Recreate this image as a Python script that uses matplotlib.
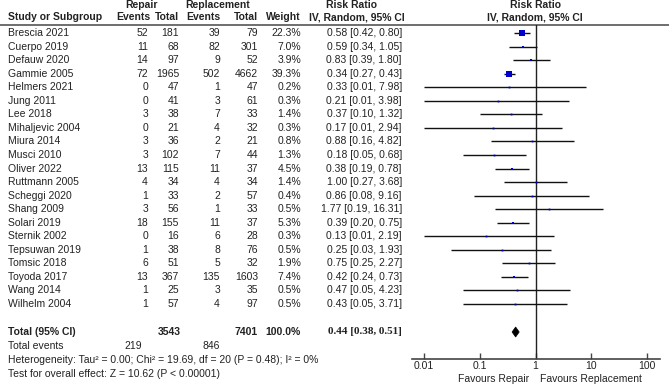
import numpy as np
import matplotlib
matplotlib.use("Agg")
import matplotlib.pyplot as plt

plt.rcParams['font.family'] = ['Liberation Sans', 'DejaVu Sans']

studies = ["Brescia 2021", "Cuerpo 2019", "Defauw 2020", "Gammie 2005", "Helmers 2021",
           "Jung 2011", "Lee 2018", "Mihaljevic 2004", "Miura 2014", "Musci 2010",
           "Oliver 2022", "Ruttmann 2005", "Scheggi 2020", "Shang 2009", "Solari 2019",
           "Sternik 2002", "Tepsuwan 2019", "Tomsic 2018", "Toyoda 2017", "Wang 2014",
           "Wilhelm 2004"]
rep_ev = [52, 11, 14, 72, 0, 0, 3, 0, 3, 3, 13, 4, 1, 3, 18, 0, 1, 6, 13, 1, 1]
rep_tot = [181, 68, 97, 1965, 47, 41, 38, 21, 36, 102, 115, 34, 33, 56, 155, 16, 38, 51, 367, 25, 57]
repl_ev = [39, 82, 9, 502, 1, 3, 7, 4, 2, 7, 11, 4, 2, 1, 11, 6, 8, 5, 135, 3, 4]
repl_tot = [79, 301, 52, 4662, 47, 61, 33, 32, 21, 44, 37, 34, 57, 33, 37, 28, 76, 32, 1603, 35, 97]
weight = [22.3, 7.0, 3.9, 39.3, 0.2, 0.3, 1.4, 0.3, 0.8, 1.3, 4.5, 1.4, 0.4, 0.5, 5.3, 0.3, 0.5, 1.9, 7.4, 0.5, 0.5]
rr = [0.58, 0.59, 0.83, 0.34, 0.33, 0.21, 0.37, 0.17, 0.88, 0.18, 0.38, 1.00, 0.86, 1.77, 0.39, 0.13, 0.25, 0.75, 0.42, 0.47, 0.43]
lo = [0.42, 0.34, 0.39, 0.27, 0.01, 0.01, 0.10, 0.01, 0.16, 0.05, 0.19, 0.27, 0.08, 0.19, 0.20, 0.01, 0.03, 0.25, 0.24, 0.05, 0.05]
hi = [0.80, 1.05, 1.80, 0.43, 7.98, 3.98, 1.32, 2.94, 4.82, 0.68, 0.78, 3.68, 9.16, 16.31, 0.75, 2.19, 1.93, 2.27, 0.73, 4.23, 3.71]

total_rep, total_repl = 3543, 7401
events_rep, events_repl = 219, 846
pooled = (0.44, 0.38, 0.51)
xticks = [0.01, 0.1, 1, 10, 100]
xtick_labels = ["0.01", "0.1", "1", "10", "100"]

W, H = 669, 384
fig = plt.figure(figsize=(W / 100, H / 100), dpi=100)

# table axes in pixel coords
ax = fig.add_axes([0, 0, 1, 1])
ax.set_xlim(0, W)
ax.set_ylim(H, 0)
ax.axis('off')

fs = 7.5
tc = '#222222'
row_y = 33 + np.arange(len(studies)) * 13.55

# headers
hb = dict(fontsize=fs, fontweight='bold', color=tc, va='center')
ax.text(142, 5, "Repair", ha='center', **hb)
ax.text(218, 5, "Replacement", ha='center', **hb)
ax.text(352, 5, "Risk Ratio", ha='center', **hb)
ax.text(535, 5, "Risk Ratio", ha='center', **hb)
ax.text(8, 17, "Study or Subgroup", ha='left', **hb)
ax.text(150, 17, "Events", ha='right', **hb)
ax.text(179, 17, "Total", ha='right', **hb)
ax.text(220, 17, "Events", ha='right', **hb)
ax.text(258, 17, "Total", ha='right', **hb)
ax.text(301, 17, "Weight", ha='right', **hb)
ax.text(357, 17, "IV, Random, 95% CI", ha='center', **hb)
ax.text(535, 17, "IV, Random, 95% CI", ha='center', **hb)
ax.axhline(25, color='#555555', lw=1.2)

tn = dict(fontsize=fs, color=tc, va='center')
for i, y in enumerate(row_y):
    ax.text(8, y, studies[i], ha='left', **tn)
    ax.text(148, y, str(rep_ev[i]), ha='right', **tn)
    ax.text(179, y, str(rep_tot[i]), ha='right', **tn)
    ax.text(220, y, str(repl_ev[i]), ha='right', **tn)
    ax.text(258, y, str(repl_tot[i]), ha='right', **tn)
    ax.text(301, y, f"{weight[i]:.1f}%", ha='right', **tn)
    ax.text(402, y, f"{rr[i]:.2f} [{lo[i]:.2f}, {hi[i]:.2f}]", ha='right', **tn)

# totals
ax.text(8, 332, "Total (95% CI)", ha='left', **hb)
ax.text(181, 332, str(total_rep), ha='right', **hb)
ax.text(258, 332, str(total_repl), ha='right', **hb)
ax.text(301, 332, "100.0%", ha='right', **hb)
ax.text(402, 332, f"{pooled[0]:.2f} [{pooled[1]:.2f}, {pooled[2]:.2f}]", ha='right',
        fontsize=fs + 0.5, fontweight='bold', family='Liberation Serif', color=tc, va='center')
ax.text(8, 346, "Total events", ha='left', **tn)
ax.text(142, 346, str(events_rep), ha='right', **tn)
ax.text(220, 346, str(events_repl), ha='right', **tn)
ax.text(8, 360, "Heterogeneity: Tau² = 0.00; Chi² = 19.69, df = 20 (P = 0.48); I² = 0%", ha='left', **tn)
ax.text(8, 374, "Test for overall effect: Z = 10.62 (P < 0.00001)", ha='left', **tn)

# forest axes
x0, x1 = 412, 660
y_top, y_bot = 25, 358.5
dec = 55.75
axf = fig.add_axes([x0 / W, (H - y_bot) / H, (x1 - x0) / W, (y_bot - y_top) / H])
axf.set_xscale('log')
axf.set_xlim(10 ** (-2 - (424 - x0) / dec), 10 ** (2 + (x1 - 647) / dec))
axf.set_ylim(y_bot, y_top)
axf.patch.set_alpha(0)
for s in ['top', 'left', 'right']:
    axf.spines[s].set_visible(False)
axf.spines['bottom'].set_color('#444444')
axf.spines['bottom'].set_linewidth(1.2)
axf.set_xticks(xticks)
axf.set_xticklabels(xtick_labels)
axf.minorticks_off()
axf.tick_params(axis='x', direction='in', length=4, width=1, color='#444444',
                labelsize=fs, labelcolor=tc, pad=1.5)
axf.set_yticks([])
axf.axvline(1, color='#222222', lw=1)

axf.hlines(row_y, lo, hi, color='#111111', lw=1)
for i, y in enumerate(row_y):
    side = max(1.1 * np.sqrt(weight[i]), 1.8) * 0.72
    axf.plot(rr[i], y, 's', color='#0000CC', markersize=side, markeredgewidth=0)

yc = 332
axf.fill([pooled[1], pooled[0], pooled[2], pooled[0]], [yc, yc - 5, yc, yc + 5],
         color='black', lw=0.5)

ax.text(529, 379, "Favours Repair", ha='right', **tn)
ax.text(540, 379, "Favours Replacement", ha='left', **tn)

fig.savefig("out.png", dpi=100)
